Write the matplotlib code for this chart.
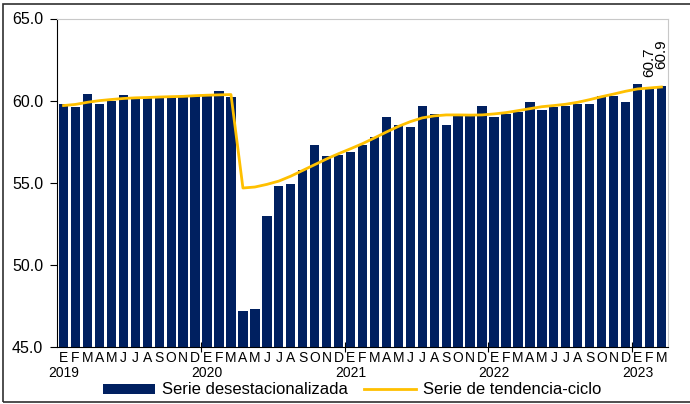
import matplotlib
matplotlib.use("Agg")
import matplotlib.pyplot as plt
from matplotlib.patches import Rectangle

plt.rcParams['font.family'] = ['Liberation Sans', 'DejaVu Sans']

# Monthly data, Jan 2019 - Mar 2023
months = ['E', 'F', 'M', 'A', 'M', 'J', 'J', 'A', 'S', 'O', 'N', 'D']
years = ['2019', '2020', '2021', '2022', '2023']

seasonal_adj = [
    59.8, 59.6, 60.4, 59.8, 60.0, 60.35, 60.25, 60.2, 60.2, 60.2, 60.25, 60.35,
    60.3, 60.6, 60.25, 47.2, 47.3, 53.0, 54.8, 54.9, 55.8, 57.3, 56.6, 56.7,
    56.9, 57.3, 57.8, 59.0, 58.5, 58.4, 59.7, 59.2, 58.5, 59.1, 59.1, 59.7,
    59.0, 59.2, 59.3, 59.9, 59.4, 59.6, 59.7, 59.8, 59.8, 60.3, 60.3, 59.9,
    61.0, 60.7, 60.9,
]
trend_cycle = [
    59.7, 59.77, 59.9, 60.0, 60.07, 60.13, 60.17, 60.19, 60.22, 60.24, 60.26, 60.3,
    60.33, 60.35, 60.37, 54.68, 54.74, 54.9, 55.1, 55.4, 55.75, 56.1, 56.45, 56.77,
    57.07, 57.38, 57.73, 58.09, 58.43, 58.72, 58.95, 59.07, 59.13, 59.13, 59.12, 59.13,
    59.19, 59.27, 59.39, 59.51, 59.63, 59.7, 59.78, 59.9, 60.06, 60.24, 60.4, 60.57,
    60.71, 60.77, 60.83,
]
labeled = [49, 50]          # bars with value labels
label_offsets = [9, 12]     # points above bar

n = len(seasonal_adj)
x = list(range(n))
month_labels = [months[i % 12] for i in x]

fig = plt.figure(figsize=(6.9, 4.04), dpi=100)
ax = fig.add_axes([57 / 690, 57 / 404, 611 / 690, 328.5 / 404])

bars = ax.bar(x, [v - 45 for v in seasonal_adj], bottom=45, width=0.78,
              color='#002060', label='Serie desestacionalizada', zorder=2)
line, = ax.plot(x, trend_cycle, color='#FFC000', linewidth=2,
                label='Serie de tendencia-ciclo', zorder=3)

for i, off in zip(labeled, label_offsets):
    ax.annotate(f'{seasonal_adj[i]:.1f}', (i, seasonal_adj[i]),
                xytext=(0, off), textcoords='offset points',
                rotation=90, ha='center', va='bottom', fontsize=11)

ax.set_xlim(-0.55, n - 0.45)
ax.set_ylim(45, 65)
ax.set_yticks([45, 50, 55, 60, 65])
ax.set_yticklabels([f'{v:.1f}' for v in [45, 50, 55, 60, 65]])
ax.tick_params(axis='y', direction='out', length=5, width=0.8, pad=5,
               labelsize=11.5)

ax.set_xticks(x)
ax.set_xticklabels(month_labels, fontsize=10)
ax.tick_params(axis='x', which='major', length=0, pad=3)
ax.set_xticks([11.5, 23.5, 35.5, 47.5], minor=True)
ax.tick_params(axis='x', which='minor', direction='inout', length=7,
               width=0.8)

# year under each January
for i in x[::12]:
    ax.text(i, -0.078, years[i // 12], transform=ax.get_xaxis_transform(),
            ha='center', va='center', fontsize=10)

for side in ['left', 'bottom']:
    ax.spines[side].set_color('black')
    ax.spines[side].set_linewidth(0.8)
for side in ['top', 'right']:
    ax.spines[side].set_color('#C8C8C8')
    ax.spines[side].set_linewidth(0.8)

fig.legend([bars, line], ['Serie desestacionalizada', 'Serie de tendencia-ciclo'],
           loc='center', bbox_to_anchor=(352 / 690, 1 - 390 / 404), ncol=2,
           frameon=False, fontsize=12, handlelength=3.1, handleheight=0.55,
           handletextpad=0.42, columnspacing=1.0, borderpad=0.2)

# outer frame of the picture
fig.patches.append(Rectangle((3 / 690, 2 / 404), 1.0, 398.5 / 404,
                             transform=fig.transFigure, fill=False,
                             edgecolor='#303030', linewidth=1.2))

fig.savefig('out.png', dpi=100)
